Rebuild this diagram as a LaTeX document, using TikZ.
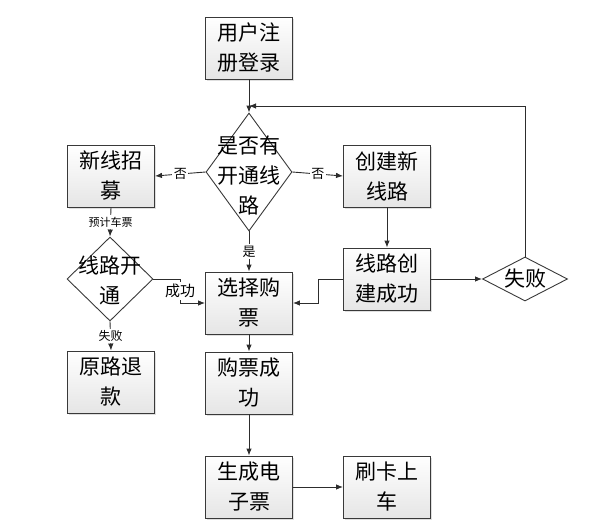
\documentclass[tikz,border=0pt]{standalone}
\usepackage{fontspec}
\newfontfamily\cjk{Noto Sans CJK SC}
\usetikzlibrary{shapes.geometric,arrows.meta,shadows}
\begin{document}
\begin{tikzpicture}[x=1pt,y=-1pt,
  box/.style={draw=gray!45!black, line width=0.9pt, top color=white, bottom color=gray!20,
    minimum width=87pt, minimum height=62pt, align=center, inner sep=2pt,
    font=\cjk\fontsize{21}{30}\selectfont,
    drop shadow={opacity=0.25,shadow xshift=1.5pt,shadow yshift=-1.5pt}},
  dia/.style={draw=gray!45!black, line width=0.9pt, diamond, fill=white, inner sep=0pt},
  dtext/.style={align=center, font=\cjk\fontsize{21}{30}\selectfont},
  arr/.style={draw=gray!35!black, line width=0.9pt, -{Latex[length=7pt,width=5.5pt]}},
  lab/.style={font=\cjk\fontsize{13}{14}\selectfont, fill=white, inner sep=1.5pt},
]
\useasboundingbox (0,0) rectangle (600,525);

% boxes
\node[box] (user) at (249,48) {用户注\\册登录};
\node[box] (xinxian) at (111,176) {新线招\\募};
\node[box] (chuangjian) at (387,176) {创建新\\线路};
\node[box] (jianchg) at (387,279) {线路创\\建成功};
\node[box] (xuanze) at (249,303) {选择购\\票};
\node[box] (tuikuan) at (111,382) {原路退\\款};
\node[box] (goupiao) at (249,383) {购票成\\功};
\node[box] (dianzi) at (249,487) {生成电\\子票};
\node[box] (shuaka) at (387,487) {刷卡上\\车};

% diamonds
\node[dia, minimum width=86pt, minimum height=118pt] (d1) at (249,172) {};
\node[dtext] (d1t) at (249,175) {是否有\\开通线\\路};
\node[dia, minimum width=86pt, minimum height=84pt] (d2) at (110,279) {};
\node[dtext] (d2t) at (110,280) {线路开\\通};
\node[dia, minimum width=85pt, minimum height=44pt] (d3) at (525,279) {};
\node[dtext] (d3t) at (525,279) {失败};

\coordinate (join) at (249,106);
\coordinate (c1) at (180,279);
\coordinate (c2) at (318,279);

% connectors
\draw[arr] (user.south) -- (d1.north);
\draw[arr] (d1.west) -- node[lab]{否} (xinxian.east);
\draw[arr] (d1.east) -- node[lab]{否} (chuangjian.west);
\draw[arr] (d1.south) -- node[lab]{是} (xuanze.north);
\draw[arr] (xinxian.south) -- node[lab, font=\cjk\fontsize{11}{12}\selectfont]{预计车票} (d2.north);
\draw[arr] (d2.east) -- (c1) |- (xuanze.west);
\node[lab, font=\cjk\fontsize{15}{16}\selectfont, inner sep=2pt] (ok) at (180,291) {成功};
\draw[arr] (d2.south) -- node[lab, font=\cjk\fontsize{12}{13}\selectfont]{失败} (tuikuan.north);
\draw[arr] (xuanze.south) -- (goupiao.north);
\draw[arr] (goupiao.south) -- (dianzi.north);
\draw[arr] (dianzi.east) -- (shuaka.west);
\draw[arr] (chuangjian.south) -- (jianchg.north);
\draw[arr] (jianchg.west) -- (c2) |- (xuanze.east);
\draw[arr] (jianchg.east) -- (d3.west);
\draw[arr] (d3.north) |- (join);
\end{tikzpicture}
\end{document}
